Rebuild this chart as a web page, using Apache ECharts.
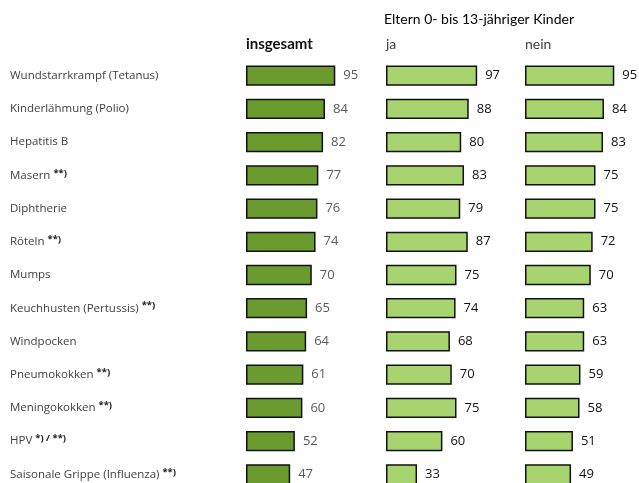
<!DOCTYPE html>
<html>
<head>
<meta charset="utf-8">
<script src="https://cdn.jsdelivr.net/npm/echarts@6/dist/echarts.min.js"></script>
<style>
  html, body { margin: 0; padding: 0; background: #fff; }
  #chart { width: 639px; height: 483px; }
</style>
</head>
<body>
<div id="chart"></div>
<script>
const categories = ['Wundstarrkrampf (Tetanus)', 'Kinderlähmung (Polio)', 'Hepatitis B', 'Masern', 'Diphtherie',
  'Röteln', 'Mumps', 'Keuchhusten (Pertussis)', 'Windpocken', 'Pneumokokken', 'Meningokokken', 'HPV',
  'Saisonale Grippe (Influenza)'];
const notes = ['', '', '', '**)', '', '**)', '', '**)', '', '**)', '**)', '*) / **)', '**)'];
const insgesamt = [95, 84, 82, 77, 76, 74, 70, 65, 64, 61, 60, 52, 47];
const ja = [97, 88, 80, 83, 79, 87, 75, 74, 68, 70, 75, 60, 33];
const nein = [95, 84, 83, 75, 75, 72, 70, 63, 63, 59, 58, 51, 49];

const headFont = 'Lato, "Noto Sans", sans-serif';
const bodyFont = '"Open Sans", "Noto Sans", sans-serif';
const lefts = [246, 386, 525];

let chart = echarts.init(document.getElementById('chart'));

function barSeries(idx, data, color, labelColor) {
    return {
        type: 'bar',
        xAxisIndex: idx,
        yAxisIndex: idx,
        data: data,
        barCategoryGap: '39%',
        itemStyle: { color: color, borderColor: '#111', borderWidth: 1.5 },
        label: {
            show: true,
            position: 'right',
            distance: 8,
            color: labelColor,
            fontFamily: bodyFont,
            fontSize: 13
        },
        emphasis: { disabled: true },
        animation: false
    };
}

chart.setOption({
    backgroundColor: '#fff',
    title: [
        { text: 'Eltern 0- bis 13-jähriger Kinder', left: 384, top: 12, padding: 0,
          textStyle: { fontFamily: headFont, fontSize: 14, fontWeight: 'normal', color: '#000' } },
        { text: 'insgesamt', left: 246, top: 37, padding: 0,
          textStyle: { fontFamily: headFont, fontSize: 15, fontWeight: 'bold', color: '#111' } },
        { text: 'ja', left: 386, top: 37, padding: 0,
          textStyle: { fontFamily: headFont, fontSize: 14, fontWeight: 'normal', color: '#404040' } },
        { text: 'nein', left: 525, top: 37, padding: 0,
          textStyle: { fontFamily: headFont, fontSize: 14, fontWeight: 'normal', color: '#404040' } }
    ],
    grid: lefts.map(l => ({ left: l, top: 59, width: 94, height: 432, outerBoundsMode: 'none' })),
    xAxis: [0, 1, 2].map(i => ({ gridIndex: i, type: 'value', min: 0, max: 100, show: false })),
    yAxis: [0, 1, 2].map(i => ({
        gridIndex: i,
        type: 'category',
        data: categories,
        inverse: true,
        axisLine: { show: false },
        axisTick: { show: false },
        splitLine: { show: false },
        axisLabel: i === 0 ? {
            show: true,
            align: 'left',
            margin: 236,
            color: '#404040',
            fontFamily: bodyFont,
            fontSize: 11.5,
            formatter: function (v, k) {
                return notes[k] ? v + ' {sup|' + notes[k] + '}' : v;
            },
            rich: {
                sup: { fontSize: 9.5, fontFamily: bodyFont, color: '#222', fontWeight: 'bold',
                       verticalAlign: 'top', lineHeight: 15 }
            }
        } : { show: false }
    })),
    series: [
        barSeries(0, insgesamt, '#6b9b2f', '#595959'),
        barSeries(1, ja, '#a8d46f', '#111'),
        barSeries(2, nein, '#a8d46f', '#111')
    ]
});
</script>
</body>
</html>
